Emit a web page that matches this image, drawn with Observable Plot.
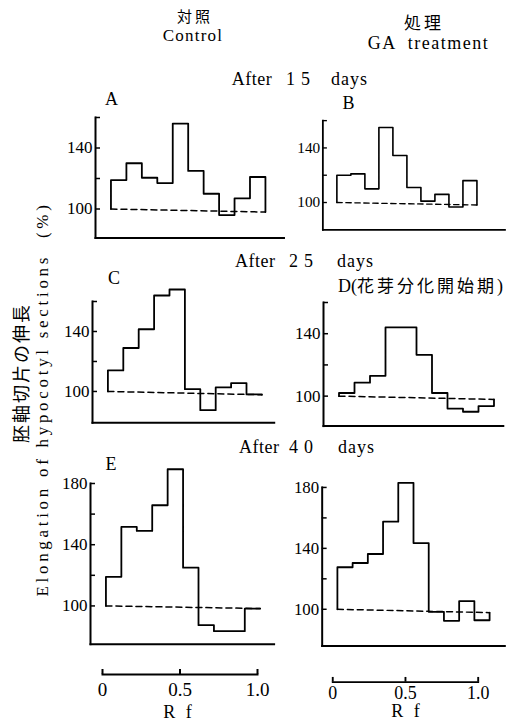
<!DOCTYPE html>
<html><head><meta charset="utf-8">
<script src="https://cdn.jsdelivr.net/npm/d3@7"></script>
<script src="https://cdn.jsdelivr.net/npm/@observablehq/plot@0.6"></script>
<style>
body{margin:0;background:#fff;}
#fig{position:relative;width:506px;height:720px;overflow:hidden;background:#fff;}
.t{position:absolute;line-height:1;white-space:pre;color:#000;font-family:"Liberation Serif","Times New Roman","DejaVu Serif",serif;}
.p{position:absolute;line-height:0;}
.cjk{font-family:"Noto Sans CJK JP",sans-serif;}
</style></head><body><div id="fig"></div>
<script>
// ---------- data ----------
const binEdges = [0, 0.1, 0.2, 0.3, 0.4, 0.5, 0.6, 0.7, 0.8, 0.9, 1.0]; // Rf
const valuesA = [119, 130, 120.5, 117, 156, 125, 110, 96, 107, 121];
const valuesB = [120, 121, 110, 155, 134.5, 111, 101, 106, 96.7, 116];
const valuesC = [114, 129, 141.5, 164, 168, 101.5, 87.5, 102.7, 105.6, 98];
const valuesD = [102, 108.6, 113, 144, 144, 126.5, 102, 92, 90, 93.6];
const valuesE = [119, 151.6, 149, 165.8, 189.3, 125, 87.4, 83.5, 83.5, 98.3];
const valuesF = [127.6, 130.4, 136.3, 157.5, 183, 143.5, 98.3, 92.4, 105.4, 92.8];
const controlStart = [100, 100, 100, 100, 100, 100];
const controlEnd = [98, 98.2, 97.8, 97.9, 98.3, 97.8];
const panelNames = ["A", "B", "C", "D", "E", "F"];
const ticksShort = [100, 120, 140, 160];
const ticksTall = [100, 120, 140, 160, 180];
const rfTicks = [0, 0.5, 1.0];
const rfTickLabels = ["0", "0.5", "1.0"];

// ---------- layout (pixel placement of each panel) ----------
const layout = [
  {ax: 95,    top: 116.5, bottom: 237,   ymin: 81,   ymax: 160, xmax: 1.12, unit: 154.5, ticks: ticksShort},
  {ax: 326.7, top: 121.4, bottom: 243,   ymin: 80,   ymax: 160, xmax: 1.2,  unit: 156,   ticks: ticksShort},
  {ax: 91.7,  top: 300.7, bottom: 422,   ymin: 79.1, ymax: 160, xmax: 1.08, unit: 154,   ticks: ticksShort},
  {ax: 323.3, top: 302.1, bottom: 425.7, ymin: 80.8, ymax: 160, xmax: 1.06, unit: 155,   ticks: ticksShort},
  {ax: 90,    top: 483.3, bottom: 644,   ymin: 75,   ymax: 180, xmax: 1.09, unit: 154.3, ticks: ticksTall},
  {ax: 321.7, top: 487.3, bottom: 647,   ymin: 75.9, ymax: 180, xmax: 1.1,  unit: 153.3, ticks: ticksTall}
];
const allValues = [valuesA, valuesB, valuesC, valuesD, valuesE, valuesF];

const fig = document.getElementById("fig");
const serif = "'Liberation Serif', 'Times New Roman', 'DejaVu Serif', serif";

function stepData(vals, start, end) {
  const n = vals.length;
  const pts = [{x: binEdges[0], y: start}];
  vals.forEach((v, i) => pts.push({x: binEdges[i], y: v}));
  pts.push({x: binEdges[n], y: vals[n - 1]});
  pts.push({x: binEdges[n], y: end});
  return pts;
}

allValues.forEach((vals, i) => {
  const L = layout[i];
  const ml = 45, mr = 2, mt = 8, mb = 8;
  const innerW = L.unit * (L.xmax + 0.1);
  const innerH = L.bottom - L.top;
  const dash = [{x: binEdges[0], y: controlStart[i]}, {x: binEdges[binEdges.length - 1], y: controlEnd[i]}];
  const chart = Plot.plot({
    width: ml + innerW + mr,
    height: mt + innerH + mb,
    marginLeft: ml, marginRight: mr, marginTop: mt, marginBottom: mb,
    x: {domain: [-0.1, L.xmax], axis: null},
    y: {domain: [L.ymin, L.ymax], axis: null},
    style: {background: "transparent", overflow: "visible", fontFamily: serif, color: "#000"},
    marks: [
      Plot.frame({anchor: "left", strokeWidth: 2}),
      Plot.frame({anchor: "bottom", strokeWidth: 2}),
      Plot.axisY({ticks: L.ticks, tickFormat: d => ((d - 100) % 40 === 0 ? String(d) : ""),
        tickSize: -5, tickPadding: 8, fontSize: 17, label: null, strokeWidth: 1.5}),
      Plot.line(dash, {x: "x", y: "y", strokeDasharray: "6,4", strokeWidth: 1.5}),
      Plot.line(stepData(vals, controlStart[i], controlEnd[i]), {x: "x", y: "y", curve: "step-after", strokeWidth: 1.8})
    ]
  });
  const d = document.createElement("div");
  d.className = "p";
  d.style.left = (L.ax - ml) + "px";
  d.style.top = (L.top - mt) + "px";
  d.appendChild(chart);
  fig.appendChild(d);
});

// Rf scale rulers
const rulers = [
  {x0: 102.3, x1: 257.3, y: 674.3, pad: 13},
  {x0: 334, x1: 488.3, y: 681.5, pad: 9}
];
rulers.forEach(R => {
  const m = 30;
  const chart = Plot.plot({
    width: m * 2 + (R.x1 - R.x0), height: 40,
    marginLeft: m, marginRight: m, marginTop: 6, marginBottom: 34,
    x: {domain: [0, 1], axis: null},
    style: {background: "transparent", overflow: "visible", fontFamily: serif, color: "#000"},
    marks: [
      Plot.frame({anchor: "bottom", strokeWidth: 2}),
      Plot.axisX({ticks: rfTicks, tickFormat: d => rfTickLabels[rfTicks.indexOf(d)],
        tickSize: -5, tickPadding: R.pad, fontSize: 19, label: null, strokeWidth: 2})
    ]
  });
  const d = document.createElement("div");
  d.className = "p";
  d.style.left = (R.x0 - m) + "px";
  d.style.top = (R.y - 6) + "px";
  d.appendChild(chart);
  fig.appendChild(d);
});

// ---------- text ----------
function txt(html, x, y, o = {}) {
  const d = document.createElement("div");
  d.className = "t" + (o.cjk ? " cjk" : "");
  d.innerHTML = html;
  d.style.left = x + "px";
  d.style.top = y + "px";
  d.style.fontSize = (o.size || 18) + "px";
  if (o.ls) d.style.letterSpacing = o.ls + "px";
  if (o.family) d.style.fontFamily = o.family;
  const tx = o.start ? "0" : "-50%";
  d.style.transform = `translate(${tx},-50%)` + (o.rot ? " rotate(-90deg)" : "");
  fig.appendChild(d);
}
txt("対照", 195, 14.5, {cjk: true, size: 15, ls: 3});
txt("Control", 193, 34.5, {size: 17, ls: 1.2});
txt("処理", 424, 20.5, {cjk: true, size: 17, ls: 3});
txt("GA  treatment", 428.5, 42.5, {ls: 1.5});

const rows = [
  {y: 79,  a: 231.7, n: 286, d: 331, days: "15"},
  {y: 261, a: 235,   n: 289, d: 337, days: "25"},
  {y: 447, a: 239,   n: 289, d: 338, days: "40"}
];
rows.forEach(r => {
  txt("After", r.a, r.y, {start: true, ls: 0.5});
  txt(r.days, r.n, r.y, {start: true, ls: 6});
  txt("days", r.d, r.y, {start: true, ls: 1});
});
txt(panelNames[0], 111.5, 99);
txt(panelNames[1], 348.5, 102.5);
txt(panelNames[2], 114, 277.5);
txt(panelNames[3] + '(<span class="cjk" style="letter-spacing:3px;font-size:17px">花芽分化開始期</span>)', 338, 284.5, {start: true, size: 18});
txt(panelNames[4], 111, 464);

txt("胚軸切片の伸長", 19.5, 373, {cjk: true, size: 18, ls: 2, rot: true});
txt("Elongation of hypocotyl sections  (%)", 42, 398.5, {size: 17, ls: 3.7, rot: true});
txt("R f", 179, 711.5, {ls: 3});
txt("R f", 407, 710.5, {ls: 3});
</script></body></html>
